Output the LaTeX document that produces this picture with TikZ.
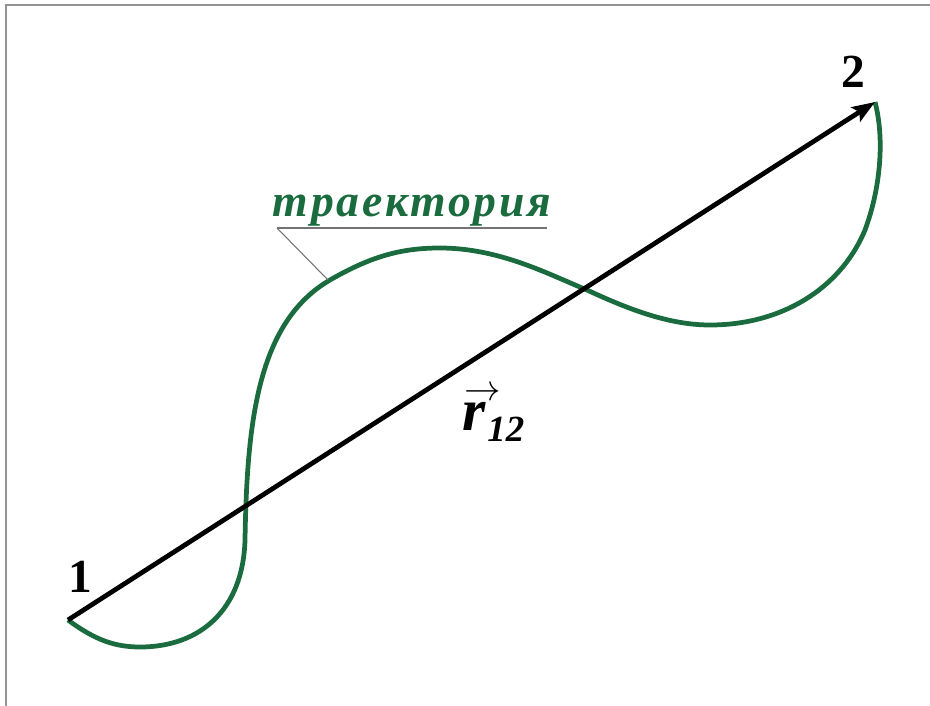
\documentclass[tikz,border=0pt]{standalone}
\usepackage{fontspec}
\setmainfont{Liberation Serif}
\newfontfamily\trfont[LetterSpace=6]{Liberation Serif}
\usepackage{amsmath}
\usetikzlibrary{arrows.meta,positioning}
\definecolor{trgreen}{RGB}{26,108,62}

\begin{document}
\begin{tikzpicture}[x=0.02cm, y=-0.02cm,
        frame/.style={draw=black!42, line width=1.1pt},
        path/.style={draw=trgreen, line width=2.7pt},
        vec/.style={-{Stealth[length=13pt, width=9.5pt, inset=2.5pt]}, line width=2.7pt},
        lead/.style={draw=black!55, line width=0.6pt},
        pt/.style={font=\fontsize{27}{27}\selectfont\bfseries, inner sep=0pt},
        trlabel/.style={font=\trfont\fontsize{26}{26}\selectfont\bfseries\itshape, text=trgreen, inner sep=0pt}
    ]
        \useasboundingbox (0,0) rectangle (930,706);
        % Рамка
        \draw[frame] (6,712) -- (6,5) -- (936,5);

        % Точки 1 и 2
        \coordinate (A) at (68,620);
        \coordinate (B) at (875,102);
        \node[pt] (p1) at (80,577) {1};
        \node[pt] (p2) at (853,72) {2};

        % Траектория
        \draw[path] (A) .. controls (95,640) and (115,647) .. (140,647)
            .. controls (200,647) and (243,610) .. (245,540)
            .. controls (247,420) and (258,322) .. (330,280)
            .. controls (370,257) and (400,248) .. (440,248)
            .. controls (500,248) and (550,275) .. (587,290)
            .. controls (630,310) and (670,325) .. (710,325)
            .. controls (780,325) and (840,290) .. (865,230)
            .. controls (880,190) and (885,140) .. (B);

        % Вектор перемещения
        \draw[vec] (A) -- (B);
        \node[anchor=base west, inner sep=0pt] (r12) at (462,430)
            {\rlap{\kern1.5pt\raisebox{17pt}{\fontsize{20}{20}\selectfont$\rightarrow$}}{\fontsize{34}{34}\selectfont\bfseries\itshape r}\kern1pt\raisebox{-6.3pt}{\fontsize{21}{21}\selectfont\bfseries\itshape 12}};

        % Подпись
        \node[trlabel, anchor=base] (tr) at (412,216) {траектория};
        \coordinate (u1) at (277,228);
        \coordinate (u2) at (547,228);
        \coordinate (c1) at (328,280);
        \draw[lead] (c1) -- (u1);
        \draw[lead, line width=0.9pt] (u1) -- (u2);
    \end{tikzpicture}
\end{document}
